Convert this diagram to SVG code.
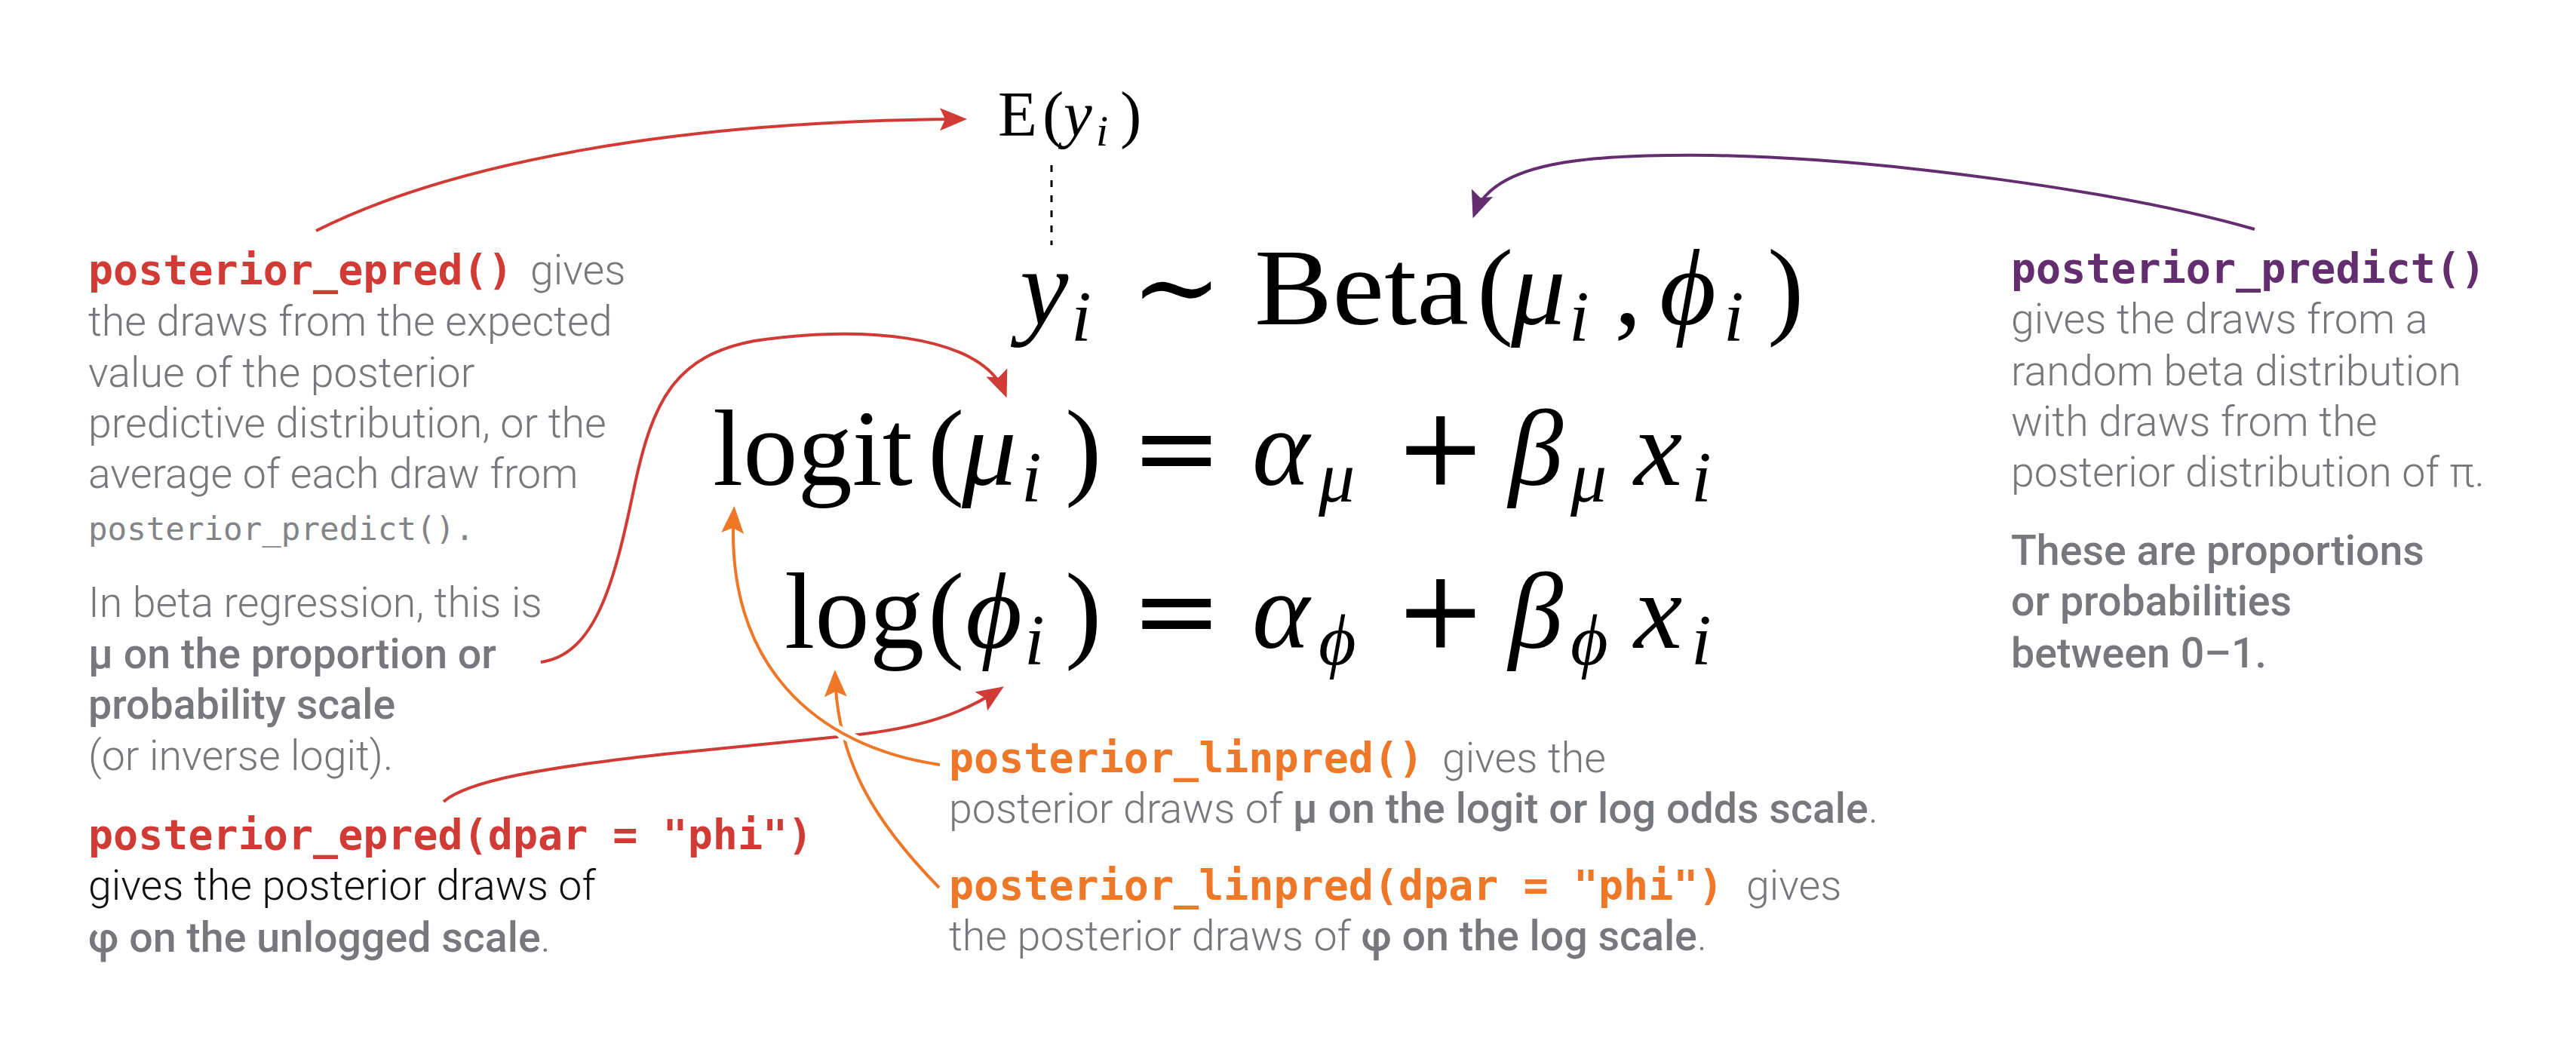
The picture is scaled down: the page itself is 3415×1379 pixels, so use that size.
<svg xmlns="http://www.w3.org/2000/svg" width="3415" height="1379" viewBox="0 0 3415 1379">
<style>
.body{font-family:Roboto,"Liberation Sans",sans-serif;font-weight:300;font-size:55.5px;fill:#77787B}
.strong{font-weight:500}
.dark{fill:#111111}
.code{font-family:"DejaVu Sans Mono","Liberation Mono",monospace;font-weight:700;font-size:55px}
.smallcode{font-family:"DejaVu Sans Mono","Liberation Mono",monospace;font-weight:400;font-size:42.5px;fill:#838487}
.red{fill:#D13B36}
.orange{fill:#EE7728}
.purple{fill:#632D6F}
.math{font-family:"Liberation Serif","DejaVu Serif",serif;font-size:145px;fill:#000}
.op{font-family:"DejaVu Serif","Liberation Serif",serif}
.it{font-style:italic}
.sub{font-size:96px}
.conn{fill:none;stroke-width:4}
.halo{fill:none;stroke:#fff;stroke-width:14}
</style>
<defs>
<marker id="ah-red" markerUnits="userSpaceOnUse" viewBox="-44 -20 50 40" markerWidth="50" markerHeight="40" refX="-7" refY="0" orient="auto"><path d="M0,0 L-36,-15 L-29,0 L-36,15 Z" fill="#D13B36"/></marker>
<marker id="ah-orange" markerUnits="userSpaceOnUse" viewBox="-44 -20 50 40" markerWidth="50" markerHeight="40" refX="-7" refY="0" orient="auto"><path d="M0,0 L-36,-15 L-29,0 L-36,15 Z" fill="#EE7728"/></marker>
<marker id="ah-purple" markerUnits="userSpaceOnUse" viewBox="-44 -20 50 40" markerWidth="50" markerHeight="40" refX="-7" refY="0" orient="auto"><path d="M0,0 L-36,-15 L-29,0 L-36,15 Z" fill="#632D6F"/></marker>
</defs>
<rect width="3415" height="1379" fill="#fff"/>

<g id="connectors">
<line x1="1394" y1="219" x2="1394" y2="325" stroke="#000" stroke-width="3" stroke-dasharray="9 11"/>
<path class="conn" stroke="#D13B36" marker-end="url(#ah-red)" d="M419,306 C600,215 900,160 1275,158"/>
<path class="conn" stroke="#D13B36" marker-end="url(#ah-red)" d="M717,878 C790,868 815,770 840,650 C865,530 895,472 1000,452 C1130,432 1300,440 1332,521"/>
<path class="conn" stroke="#D13B36" marker-end="url(#ah-red)" d="M588,1063 C620,1035 720,1018 880,1000 L1130,975 C1220,965 1275,947 1325,914"/>
<path class="halo" d="M1245,1177 C1160,1090 1110,1010 1107,895"/>
<path class="conn" stroke="#EE7728" marker-end="url(#ah-orange)" d="M1245,1177 C1160,1090 1110,1010 1107,895"/>
<path class="halo" d="M1246,1014 C1080,990 960,880 973,678"/>
<path class="conn" stroke="#EE7728" marker-end="url(#ah-orange)" d="M1246,1014 C1080,990 960,880 973,678"/>
<path class="conn" stroke="#632D6F" stroke-width="3.5" marker-end="url(#ah-purple)" d="M2989,304 C2820,255 2500,210 2270,206 C2100,204 1980,215 1955,283"/>
</g>

<g id="eq-expected">
<text class="math" style="font-size:85px" y="180"><tspan x="1323">E</tspan><tspan x="1382">(</tspan><tspan class="it" x="1410">y</tspan><tspan class="it" style="font-size:58px" x="1453" y="193">i</tspan><tspan x="1485" y="180">)</tspan></text>
</g>

<g id="eq-beta">
<text class="math" y="430"><tspan class="it" x="1352">y</tspan><tspan class="it sub" x="1420" y="452">i</tspan><tspan class="op" x="1499" y="430">∼</tspan><tspan x="1663" textLength="284" lengthAdjust="spacingAndGlyphs">Beta</tspan><tspan x="1958">(</tspan><tspan class="it" x="2003">μ</tspan><tspan class="it sub" x="2080" y="452">i</tspan><tspan x="2140" y="430">,</tspan><tspan class="it" x="2200">ϕ</tspan><tspan class="it sub" x="2285" y="452">i</tspan><tspan x="2343" y="430">)</tspan></text>
</g>

<g id="eq-logit">
<text class="math" y="643"><tspan x="945" textLength="265" lengthAdjust="spacingAndGlyphs">logit</tspan><tspan x="1230">(</tspan><tspan class="it" x="1275">μ</tspan><tspan class="it sub" x="1354" y="665">i</tspan><tspan x="1412" y="643">)</tspan><tspan class="op" x="1499">=</tspan><tspan class="it" x="1660">α</tspan><tspan class="it sub" x="1748" y="665">μ</tspan><tspan class="op" x="1849" y="643">+</tspan><tspan class="it" x="2000">β</tspan><tspan class="it sub" x="2082" y="665">μ</tspan><tspan class="it" x="2166" y="643">x</tspan><tspan class="it sub" x="2242" y="665">i</tspan></text>
</g>

<g id="eq-log">
<text class="math" y="859"><tspan x="1040">log</tspan><tspan x="1230">(</tspan><tspan class="it" x="1280">ϕ</tspan><tspan class="it sub" x="1358" y="881">i</tspan><tspan x="1412" y="859">)</tspan><tspan class="op" x="1499">=</tspan><tspan class="it" x="1660">α</tspan><tspan class="it sub" x="1748" y="881">ϕ</tspan><tspan class="op" x="1849" y="859">+</tspan><tspan class="it" x="2000">β</tspan><tspan class="it sub" x="2082" y="881">ϕ</tspan><tspan class="it" x="2166" y="859">x</tspan><tspan class="it sub" x="2242" y="881">i</tspan></text>
</g>

<g id="note-epred">
<text class="body" x="117" y="377"><tspan class="code red">posterior_epred()</tspan><tspan x="703">gives</tspan></text>
<text class="body" x="117" y="445">the draws from the expected</text>
<text class="body" x="117" y="513">value of the posterior</text>
<text class="body" x="117" y="580">predictive distribution, or the</text>
<text class="body" x="117" y="647">average of each draw from</text>
<text class="smallcode" x="117" y="716">posterior_predict().</text>
<text class="body" x="117" y="818">In beta regression, this is</text>
<text class="body strong" x="117" y="886">μ on the proportion or</text>
<text class="body strong" x="117" y="953">probability scale</text>
<text class="body" x="117" y="1021">(or inverse logit).</text>
</g>

<g id="note-epred-phi">
<text class="code red" x="117" y="1126">posterior_epred(dpar = "phi")</text>
<text class="body dark" x="117" y="1193">gives the posterior draws of</text>
<text class="body" x="117" y="1262"><tspan class="strong">φ on the unlogged scale</tspan>.</text>
</g>

<g id="note-linpred">
<text class="body" x="1258" y="1024"><tspan class="code orange">posterior_linpred()</tspan><tspan x="1912">gives the</tspan></text>
<text class="body" x="1258" y="1091">posterior draws of <tspan class="strong">μ on the logit or log odds scale</tspan>.</text>
</g>

<g id="note-linpred-phi">
<text class="body" x="1258" y="1193"><tspan class="code orange">posterior_linpred(dpar = "phi")</tspan><tspan x="2315">gives</tspan></text>
<text class="body" x="1258" y="1260">the posterior draws of <tspan class="strong">φ on the log scale</tspan>.</text>
</g>

<g id="note-predict">
<text class="code purple" x="2666" y="375">posterior_predict()</text>
<text class="body" x="2666" y="442">gives the draws from a</text>
<text class="body" x="2666" y="511">random beta distribution</text>
<text class="body" x="2666" y="578">with draws from the</text>
<text class="body" x="2666" y="645">posterior distribution of π.</text>
<text class="body strong" x="2666" y="749">These are proportions</text>
<text class="body strong" x="2666" y="816">or probabilities</text>
<text class="body strong" x="2666" y="885">between 0–1.</text>
</g>
</svg>
